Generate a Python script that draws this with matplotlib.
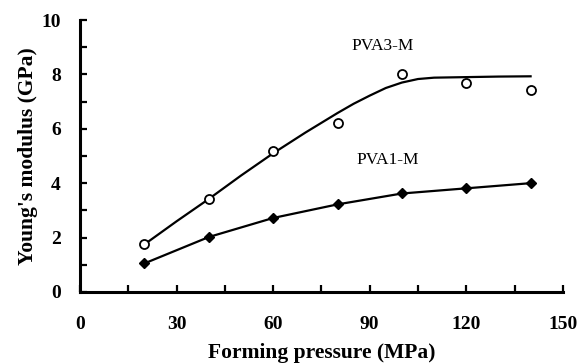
import matplotlib
matplotlib.use("Agg")
import matplotlib.pyplot as plt
from matplotlib.ticker import MultipleLocator

# measured points
pressure = [20, 40, 60, 80, 100, 120, 140]
pva3_modulus = [1.75, 3.42, 5.18, 6.23, 8.0, 7.67, 7.42]
pva1_modulus = [1.05, 2.02, 2.72, 3.22, 3.62, 3.81, 4.0]

# fitted trend through PVA3-M
pva3_fit_x = [20, 30, 40, 50, 60, 70, 80, 85, 90, 95, 100, 105, 110, 120, 130, 140]
pva3_fit_y = [1.75, 2.6, 3.42, 4.28, 5.1, 5.86, 6.58, 6.92, 7.22, 7.5, 7.7, 7.83, 7.88, 7.9, 7.92, 7.93]

plt.rcParams['font.family'] = ['Liberation Serif', 'DejaVu Serif']

fig = plt.figure(figsize=(5.85, 3.64), dpi=100)
ax = fig.add_axes([0.137, 0.198, 0.825, 0.747])

ax.plot(pva3_fit_x, pva3_fit_y, color='black', lw=1.6)
ax.plot(pressure, pva3_modulus, 'o', mfc='white', mec='black', mew=1.3, ms=6.5)
ax.plot(pressure, pva1_modulus, '-D', color='black', lw=1.6, ms=5.5)

ax.text(94, 9.05, 'PVA3-M', fontsize=12.5, ha='center', va='center')
ax.text(95.6, 4.85, 'PVA1-M', fontsize=12.5, ha='center', va='center')

ax.set_xlim(0, 150)
ax.set_ylim(0, 10)
ax.xaxis.set_major_locator(MultipleLocator(30))
ax.xaxis.set_minor_locator(MultipleLocator(15))
ax.yaxis.set_major_locator(MultipleLocator(2))
ax.yaxis.set_minor_locator(MultipleLocator(1))

for side in ['top', 'right']:
    ax.spines[side].set_visible(False)
for side in ['left', 'bottom']:
    ax.spines[side].set_linewidth(2.2)

ax.tick_params(axis='both', which='both', direction='in', width=1.6, length=5)
ax.tick_params(axis='x', which='major', pad=17)
ax.tick_params(axis='y', which='major', pad=14)
for lab in ax.get_xticklabels() + ax.get_yticklabels():
    lab.set_fontweight('bold')
    lab.set_fontsize(14)

xl = ax.set_xlabel('Forming pressure (MPa)', fontsize=15.5, fontweight='bold')
xl.set_va('center')
ax.xaxis.set_label_coords(0.5, -0.224)
yl = ax.set_ylabel("Young's modulus (GPa)", fontsize=15.5, fontweight='bold')
yl.set_va('center')
ax.yaxis.set_label_coords(-0.108, 0.5)

fig.savefig('out.png', dpi=100)
